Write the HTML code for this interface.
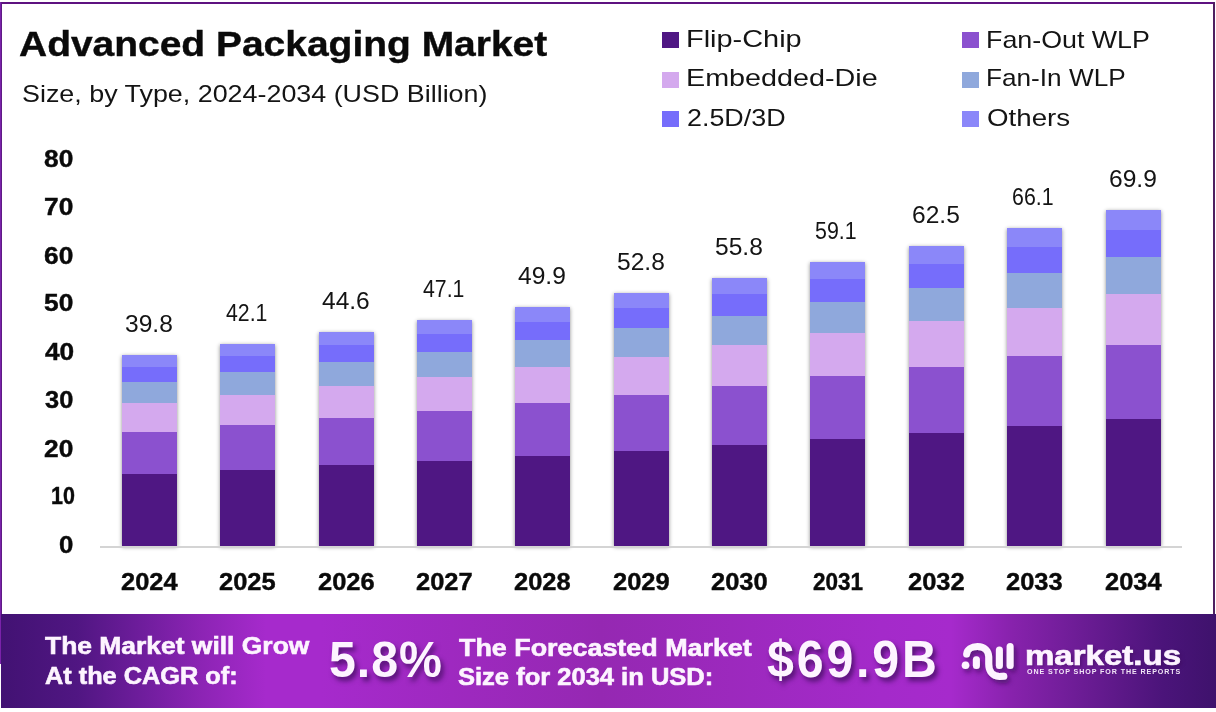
<!DOCTYPE html>
<html lang="en">
<head>
<meta charset="utf-8">
<title>Advanced Packaging Market</title>
<style>
html,body{margin:0;padding:0;background:#fff;}
body{width:1216px;height:712px;position:relative;overflow:hidden;font-family:"Liberation Sans",sans-serif;color:#000;}
.abs,.bar,.sg,.sq,.t{position:absolute;}
.t{white-space:nowrap;line-height:1.2;transform-origin:0 0;color:#0a0a0a;}
.tb{font-weight:bold;-webkit-text-stroke:0.4px currentColor;}
.tr{font-weight:normal;color:#141414;}
.bn{color:#fdf4ff;-webkit-text-stroke:0.6px currentColor;}
.sh{text-shadow:3px 4px 5px rgba(50,8,80,.7);}
.sh2{text-shadow:2px 2px 3px rgba(60,10,90,.5);}
#bt{left:0;top:2px;width:1215px;height:2px;background:#5e1280;}
#bl{left:0;top:2px;width:2px;height:662px;background:linear-gradient(90deg,#7a22aa 50%,#5f1a85 50%);}
#br{left:1213px;top:2px;width:2px;height:612px;background:#4f2060;}
.bar{width:54.75px;box-shadow:0 1px 4px rgba(0,0,0,.45);background:#4f1783;}
.sg{width:54.75px;}
#axis{left:100px;top:546px;width:1082px;height:2px;background:#d4d4d4;}
.sq{width:17px;height:16px;}
#banner{left:1px;top:614px;width:1215px;height:94px;background:linear-gradient(90deg,#421273 0px,#501682 76px,#731ea0 150px,#8c24b4 200px,#a62acc 265px,#a62acc 320px,#9528b2 600px,#a42aca 880px,#a62acc 950px,#8722ac 1012px,#731e9b 1062px,#5f198a 1112px,#4b147a 1162px,#3e126c 1216px);}
</style>
</head>
<body>
<div class="abs" id="bt"></div><div class="abs" id="bl"></div><div class="abs" id="br"></div>
<div class="sq" style="left:662px;top:32px;background:#4f1783"></div>
<div class="sq" style="left:662px;top:71.5px;background:#d4a9ee"></div>
<div class="sq" style="left:662px;top:111px;background:#766dfb"></div>
<div class="sq" style="left:962px;top:32px;background:#8b51cf"></div>
<div class="sq" style="left:962px;top:71.5px;background:#8fa8dc"></div>
<div class="sq" style="left:962px;top:111px;background:#8b87f9"></div>
<div id="title" class="t tb" style="left:18.90px;top:24.25px;font-size:34.5px;transform:scaleX(1.1290);">Advanced Packaging Market</div>
<div id="sub" class="t tr" style="left:21.88px;top:79.20px;font-size:24.5px;transform:scaleX(1.0966);">Size, by Type, 2024-2034 (USD Billion)</div>
<div id="lg0" class="t tr" style="left:685.59px;top:24.95px;font-size:24px;transform:scaleX(1.2043);">Flip-Chip</div>
<div id="lg1" class="t tr" style="left:685.61px;top:63.95px;font-size:24px;transform:scaleX(1.1975);">Embedded-Die</div>
<div id="lg2" class="t tr" style="left:686.88px;top:103.95px;font-size:24px;transform:scaleX(1.1195);">2.5D/3D</div>
<div id="lg3" class="t tr" style="left:985.72px;top:25.50px;font-size:24px;transform:scaleX(1.1172);">Fan-Out WLP</div>
<div id="lg4" class="t tr" style="left:985.78px;top:63.95px;font-size:24px;transform:scaleX(1.0909);">Fan-In WLP</div>
<div id="lg5" class="t tr" style="left:986.78px;top:103.70px;font-size:24px;transform:scaleX(1.1540);">Others</div>
<div id="y0" class="t tb" style="left:59.31px;top:531.20px;font-size:23.5px;transform:scaleX(1.0974);">0</div>
<div id="y1" class="t tb" style="left:50.57px;top:482.44px;font-size:23.5px;transform:scaleX(0.9145);">10</div>
<div id="y2" class="t tb" style="left:44.29px;top:434.68px;font-size:23.5px;transform:scaleX(1.1200);">20</div>
<div id="y3" class="t tb" style="left:45.30px;top:385.92px;font-size:23.5px;transform:scaleX(1.0814);">30</div>
<div id="y4" class="t tb" style="left:45.39px;top:338.16px;font-size:23.5px;transform:scaleX(1.1168);">40</div>
<div id="y5" class="t tb" style="left:44.29px;top:289.40px;font-size:23.5px;transform:scaleX(1.1200);">50</div>
<div id="y6" class="t tb" style="left:44.29px;top:241.64px;font-size:23.5px;transform:scaleX(1.1200);">60</div>
<div id="y7" class="t tb" style="left:44.29px;top:192.88px;font-size:23.5px;transform:scaleX(1.1200);">70</div>
<div id="y8" class="t tb" style="left:44.29px;top:145.12px;font-size:23.5px;transform:scaleX(1.1200);">80</div>
<div class="bar" style="left:122px;top:355px;height:191px"></div>
<div class="sg" style="left:122px;top:474px;height:72px;background:#4f1783"></div>
<div class="sg" style="left:122px;top:432px;height:42px;background:#8b51cf"></div>
<div class="sg" style="left:122px;top:403px;height:29px;background:#d4a9ee"></div>
<div class="sg" style="left:122px;top:382px;height:21px;background:#8fa8dc"></div>
<div class="sg" style="left:122px;top:367px;height:15px;background:#766dfb"></div>
<div class="sg" style="left:122px;top:355px;height:12px;background:#8b87f9"></div>
<div class="bar" style="left:220px;top:344px;height:202px"></div>
<div class="sg" style="left:220px;top:470px;height:76px;background:#4f1783"></div>
<div class="sg" style="left:220px;top:425px;height:45px;background:#8b51cf"></div>
<div class="sg" style="left:220px;top:395px;height:30px;background:#d4a9ee"></div>
<div class="sg" style="left:220px;top:372px;height:23px;background:#8fa8dc"></div>
<div class="sg" style="left:220px;top:356px;height:16px;background:#766dfb"></div>
<div class="sg" style="left:220px;top:344px;height:12px;background:#8b87f9"></div>
<div class="bar" style="left:319px;top:332px;height:214px"></div>
<div class="sg" style="left:319px;top:465px;height:81px;background:#4f1783"></div>
<div class="sg" style="left:319px;top:418px;height:47px;background:#8b51cf"></div>
<div class="sg" style="left:319px;top:386px;height:32px;background:#d4a9ee"></div>
<div class="sg" style="left:319px;top:362px;height:24px;background:#8fa8dc"></div>
<div class="sg" style="left:319px;top:345px;height:17px;background:#766dfb"></div>
<div class="sg" style="left:319px;top:332px;height:13px;background:#8b87f9"></div>
<div class="bar" style="left:417px;top:320px;height:226px"></div>
<div class="sg" style="left:417px;top:461px;height:85px;background:#4f1783"></div>
<div class="sg" style="left:417px;top:411px;height:50px;background:#8b51cf"></div>
<div class="sg" style="left:417px;top:377px;height:34px;background:#d4a9ee"></div>
<div class="sg" style="left:417px;top:352px;height:25px;background:#8fa8dc"></div>
<div class="sg" style="left:417px;top:334px;height:18px;background:#766dfb"></div>
<div class="sg" style="left:417px;top:320px;height:14px;background:#8b87f9"></div>
<div class="bar" style="left:515px;top:307px;height:239px"></div>
<div class="sg" style="left:515px;top:456px;height:90px;background:#4f1783"></div>
<div class="sg" style="left:515px;top:403px;height:53px;background:#8b51cf"></div>
<div class="sg" style="left:515px;top:367px;height:36px;background:#d4a9ee"></div>
<div class="sg" style="left:515px;top:340px;height:27px;background:#8fa8dc"></div>
<div class="sg" style="left:515px;top:322px;height:18px;background:#766dfb"></div>
<div class="sg" style="left:515px;top:307px;height:15px;background:#8b87f9"></div>
<div class="bar" style="left:614px;top:293px;height:253px"></div>
<div class="sg" style="left:614px;top:451px;height:95px;background:#4f1783"></div>
<div class="sg" style="left:614px;top:395px;height:56px;background:#8b51cf"></div>
<div class="sg" style="left:614px;top:357px;height:38px;background:#d4a9ee"></div>
<div class="sg" style="left:614px;top:328px;height:29px;background:#8fa8dc"></div>
<div class="sg" style="left:614px;top:308px;height:20px;background:#766dfb"></div>
<div class="sg" style="left:614px;top:293px;height:15px;background:#8b87f9"></div>
<div class="bar" style="left:712px;top:278px;height:268px"></div>
<div class="sg" style="left:712px;top:445px;height:101px;background:#4f1783"></div>
<div class="sg" style="left:712px;top:386px;height:59px;background:#8b51cf"></div>
<div class="sg" style="left:712px;top:345px;height:41px;background:#d4a9ee"></div>
<div class="sg" style="left:712px;top:316px;height:29px;background:#8fa8dc"></div>
<div class="sg" style="left:712px;top:294px;height:22px;background:#766dfb"></div>
<div class="sg" style="left:712px;top:278px;height:16px;background:#8b87f9"></div>
<div class="bar" style="left:810px;top:262px;height:284px"></div>
<div class="sg" style="left:810px;top:439px;height:107px;background:#4f1783"></div>
<div class="sg" style="left:810px;top:376px;height:63px;background:#8b51cf"></div>
<div class="sg" style="left:810px;top:333px;height:43px;background:#d4a9ee"></div>
<div class="sg" style="left:810px;top:302px;height:31px;background:#8fa8dc"></div>
<div class="sg" style="left:810px;top:279px;height:23px;background:#766dfb"></div>
<div class="sg" style="left:810px;top:262px;height:17px;background:#8b87f9"></div>
<div class="bar" style="left:909px;top:246px;height:300px"></div>
<div class="sg" style="left:909px;top:433px;height:113px;background:#4f1783"></div>
<div class="sg" style="left:909px;top:367px;height:66px;background:#8b51cf"></div>
<div class="sg" style="left:909px;top:321px;height:46px;background:#d4a9ee"></div>
<div class="sg" style="left:909px;top:288px;height:33px;background:#8fa8dc"></div>
<div class="sg" style="left:909px;top:264px;height:24px;background:#766dfb"></div>
<div class="sg" style="left:909px;top:246px;height:18px;background:#8b87f9"></div>
<div class="bar" style="left:1007px;top:228px;height:318px"></div>
<div class="sg" style="left:1007px;top:426px;height:120px;background:#4f1783"></div>
<div class="sg" style="left:1007px;top:356px;height:70px;background:#8b51cf"></div>
<div class="sg" style="left:1007px;top:308px;height:48px;background:#d4a9ee"></div>
<div class="sg" style="left:1007px;top:273px;height:35px;background:#8fa8dc"></div>
<div class="sg" style="left:1007px;top:247px;height:26px;background:#766dfb"></div>
<div class="sg" style="left:1007px;top:228px;height:19px;background:#8b87f9"></div>
<div class="bar" style="left:1106px;top:210px;height:336px"></div>
<div class="sg" style="left:1106px;top:419px;height:127px;background:#4f1783"></div>
<div class="sg" style="left:1106px;top:345px;height:74px;background:#8b51cf"></div>
<div class="sg" style="left:1106px;top:294px;height:51px;background:#d4a9ee"></div>
<div class="sg" style="left:1106px;top:257px;height:37px;background:#8fa8dc"></div>
<div class="sg" style="left:1106px;top:230px;height:27px;background:#766dfb"></div>
<div class="sg" style="left:1106px;top:210px;height:20px;background:#8b87f9"></div>
<div class="abs" id="axis"></div>
<div id="v0" class="t tr" style="left:125.23px;top:310.20px;font-size:24px;transform:scaleX(1.0232);">39.8</div>
<div id="v1" class="t tr" style="left:226.31px;top:299.20px;font-size:24px;transform:scaleX(0.8865);">42.1</div>
<div id="v2" class="t tr" style="left:322.26px;top:287.20px;font-size:24px;transform:scaleX(1.0222);">44.6</div>
<div id="v3" class="t tr" style="left:423.31px;top:275.20px;font-size:24px;transform:scaleX(0.8865);">47.1</div>
<div id="v4" class="t tr" style="left:518.24px;top:262.20px;font-size:24px;transform:scaleX(1.0232);">49.9</div>
<div id="v5" class="t tr" style="left:617.23px;top:248.20px;font-size:24px;transform:scaleX(1.0232);">52.8</div>
<div id="v6" class="t tr" style="left:715.23px;top:233.20px;font-size:24px;transform:scaleX(1.0232);">55.8</div>
<div id="v7" class="t tr" style="left:815.30px;top:217.20px;font-size:24px;transform:scaleX(0.8897);">59.1</div>
<div id="v8" class="t tr" style="left:912.23px;top:201.20px;font-size:24px;transform:scaleX(1.0232);">62.5</div>
<div id="v9" class="t tr" style="left:1012.30px;top:183.20px;font-size:24px;transform:scaleX(0.8897);">66.1</div>
<div id="v10" class="t tr" style="left:1109.23px;top:165.20px;font-size:24px;transform:scaleX(1.0232);">69.9</div>
<div id="x0" class="t tb" style="left:121.00px;top:567.80px;font-size:23.5px;transform:scaleX(1.0818);">2024</div>
<div id="x1" class="t tb" style="left:218.96px;top:567.80px;font-size:23.5px;transform:scaleX(1.0833);">2025</div>
<div id="x2" class="t tb" style="left:317.97px;top:567.80px;font-size:23.5px;transform:scaleX(1.0837);">2026</div>
<div id="x3" class="t tb" style="left:415.97px;top:567.80px;font-size:23.5px;transform:scaleX(1.0837);">2027</div>
<div id="x4" class="t tb" style="left:513.96px;top:567.80px;font-size:23.5px;transform:scaleX(1.0833);">2028</div>
<div id="x5" class="t tb" style="left:612.97px;top:567.80px;font-size:23.5px;transform:scaleX(1.0837);">2029</div>
<div id="x6" class="t tb" style="left:710.97px;top:567.80px;font-size:23.5px;transform:scaleX(1.0837);">2030</div>
<div id="x7" class="t tb" style="left:813.37px;top:567.80px;font-size:23.5px;transform:scaleX(0.9573);">2031</div>
<div id="x8" class="t tb" style="left:907.97px;top:567.80px;font-size:23.5px;transform:scaleX(1.0837);">2032</div>
<div id="x9" class="t tb" style="left:1005.97px;top:567.80px;font-size:23.5px;transform:scaleX(1.0837);">2033</div>
<div id="x10" class="t tb" style="left:1105.00px;top:567.80px;font-size:23.5px;transform:scaleX(1.0818);">2034</div>
<div class="abs" id="banner"></div>
<div id="t1a" class="t tb bn" style="left:45.00px;top:632.08px;font-size:23.6px;transform:scaleX(1.1201);">The Market will Grow</div>
<div id="t1b" class="t tb bn" style="left:44.93px;top:662.08px;font-size:23.6px;transform:scaleX(1.0725);">At the CAGR of:</div>
<div id="b1" class="t tb bn sh" style="left:329.08px;top:629.50px;font-size:50.5px;transform:scaleX(0.9558);-webkit-text-stroke:0;letter-spacing:1px;">5.8%</div>
<div id="t2a" class="t tb bn" style="left:458.50px;top:633.90px;font-size:23.6px;transform:scaleX(1.1392);">The Forecasted Market</div>
<div id="t2b" class="t tb bn" style="left:458.43px;top:663.15px;font-size:23.6px;transform:scaleX(1.0816);">Size for 2034 in USD:</div>
<div id="b2" class="t tb bn sh" style="left:766.54px;top:628.75px;font-size:51px;transform:scaleX(0.9468);-webkit-text-stroke:0;letter-spacing:3px;">$69.9B</div>
<div id="mk" class="t tb bn sh2" style="left:1024.76px;top:637.75px;font-size:28.5px;transform:scaleX(1.1591);-webkit-text-stroke:0.7px currentColor;">market.us</div>
<div id="tag" class="t tb bn" style="left:1026.99px;top:668.30px;font-size:7px;transform:scaleX(1.0134);letter-spacing:0.9px;-webkit-text-stroke:0;opacity:.93;">ONE STOP SHOP FOR THE REPORTS</div>
<svg class="abs" id="logo" style="left:950px;top:630px" width="70" height="60" viewBox="950 630 70 60">
<defs><filter id="ds" x="-30%" y="-30%" width="170%" height="180%"><feDropShadow dx="2.5" dy="3.5" stdDeviation="2.4" flood-color="#3c0a5a" flood-opacity=".7"/></filter></defs>
<g filter="url(#ds)" fill="none" stroke="#fdf4ff" stroke-width="7" stroke-linecap="round" stroke-linejoin="round">
<circle cx="965.5" cy="665.3" r="3.8" fill="#fdf4ff" stroke="none"/>
<path d="M966.6 654 C967 649.5 971.5 646.5 977.5 646.5 C984.5 646.5 988.7 651 988.7 657 L988.7 664 C988.7 671.5 993 676.4 999.5 676.4 L1003.8 676.3"/>
<path d="M976.4 659.8 L976.4 665.5"/>
<path d="M999.4 650 L999.4 665.5"/>
<path d="M1010.1 646.5 L1010.1 665.5"/>
</g>
</svg>
</body>
</html>
